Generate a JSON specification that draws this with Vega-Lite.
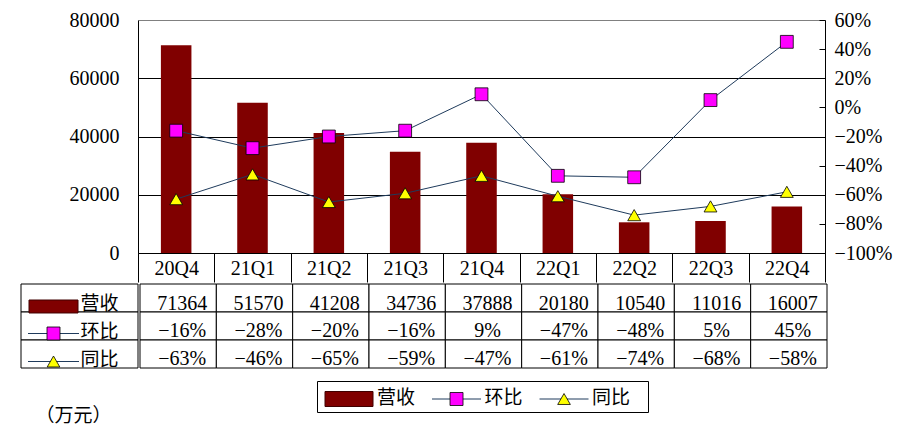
{
  "$schema": "https://vega.github.io/schema/vega-lite/v6.json",
  "background": "white",
  "padding": {"left": 20, "top": 10, "right": 5, "bottom": 2},
  "config": {
    "view": {"stroke": null},
    "axis": {"labelFont": "'Liberation Serif', 'Noto Sans CJK SC'", "labelFontSize": 20, "labelColor": "black", "domainColor": "black", "tickColor": "black", "title": null},
    "text": {"font": "'Liberation Serif', 'Noto Sans CJK SC'", "fontSize": 20, "color": "black"}
  },
  "datasets": {
    "q": [
      {"quarter": "20Q4", "营收": 71364, "环比": -0.16, "同比": -0.63},
      {"quarter": "21Q1", "营收": 51570, "环比": -0.28, "同比": -0.46},
      {"quarter": "21Q2", "营收": 41208, "环比": -0.20, "同比": -0.65},
      {"quarter": "21Q3", "营收": 34736, "环比": -0.16, "同比": -0.59},
      {"quarter": "21Q4", "营收": 37888, "环比": 0.09, "同比": -0.47},
      {"quarter": "22Q1", "营收": 20180, "环比": -0.47, "同比": -0.61},
      {"quarter": "22Q2", "营收": 10540, "环比": -0.48, "同比": -0.74},
      {"quarter": "22Q3", "营收": 11016, "环比": 0.05, "同比": -0.68},
      {"quarter": "22Q4", "营收": 16007, "环比": 0.45, "同比": -0.58}
    ]
  },
  "title": {"text": "（万元）", "orient": "bottom", "anchor": "start", "font": "Noto Sans CJK SC", "fontSize": 19, "fontWeight": "normal", "color": "black", "offset": -6, "dx": 15},
  "spacing": 10,
  "vconcat": [
    {
      "spacing": 0,
      "vconcat": [
        {
          "bounds": "flush",
          "spacing": 0,
          "hconcat": [
            {"width": 117, "height": 233, "data": {"values": []}, "mark": "point"},
            {
              "width": 687,
              "height": 233,
              "data": {"name": "q"},
              "encoding": {
                "x": {"field": "quarter", "type": "nominal", "sort": ["20Q4","21Q1","21Q2","21Q3","21Q4","22Q1","22Q2","22Q3","22Q4"], "scale": {"paddingInner": 0, "paddingOuter": 0},
                  "axis": {"orient": "bottom", "labelAngle": 0, "tickBand": "extent", "tickSize": 29, "tickWidth": 1, "labelPadding": -24, "labelOverlap": false, "labelFlush": false, "domain": true, "grid": false}}
              },
              "layer": [
                {
                  "mark": {"type": "bar", "color": "#800000", "width": {"band": 0.4}},
                  "encoding": {
                    "y": {"field": "营收", "type": "quantitative", "scale": {"domain": [0, 80000]},
                      "axis": {"orient": "left", "values": [0, 20000, 40000, 60000, 80000], "format": "d", "grid": true,
                        "gridColor": {"condition": {"test": "datum.value === 80000", "value": "#808080"}, "value": "black"},
                        "gridOpacity": 1, "gridWidth": 1, "ticks": false, "tickSize": 0, "labelPadding": 19, "domain": true}}
                  }
                },
                {
                  "transform": [{"fold": ["环比", "同比"], "as": ["series", "pct"]}],
                  "encoding": {
                    "y": {"field": "pct", "type": "quantitative", "scale": {"domain": [-1, 0.6]},
                      "axis": {"orient": "right", "values": [-1, -0.8, -0.6, -0.4, -0.2, 0, 0.2, 0.4, 0.6], "format": ".0%", "grid": false, "tickSize": -6, "labelPadding": 15}}
                  },
                  "layer": [
                    {"mark": {"type": "line", "color": "#1f3b5c", "strokeWidth": 1}, "encoding": {"detail": {"field": "series", "type": "nominal"}}},
                    {"mark": {"type": "point", "filled": true, "size": 165, "opacity": 1, "stroke": "black", "strokeWidth": 0.8},
                      "encoding": {
                        "shape": {"field": "series", "type": "nominal", "scale": {"domain": ["环比", "同比"], "range": ["square", "triangle-up"]}, "legend": null},
                        "fill": {"field": "series", "type": "nominal", "scale": {"domain": ["环比", "同比"], "range": ["#ff00ff", "#ffff00"]}, "legend": null}
                      }}
                  ]
                }
              ],
              "resolve": {"scale": {"y": "independent"}}
            }
          ]
        },
        {
          "spacing": 0,
          "hconcat": [
            {
              "width": 117,
              "height": 84,
              "data": {"values": [{"row": "营收"}, {"row": "环比"}, {"row": "同比"}]},
              "encoding": {
                "y": {"field": "row", "type": "nominal", "scale": {"domain": ["营收", "环比", "同比"], "paddingInner": 0, "paddingOuter": 0}, "axis": null}
              },
              "layer": [
                {"mark": {"type": "rect", "fill": "white", "stroke": "black", "strokeWidth": 1}},
                {"transform": [{"filter": "datum.row !== '营收'"}],
                  "mark": {"type": "point", "shape": "M-1,0H1", "size": 2601, "filled": false, "stroke": "#1f3b5c", "strokeWidth": 1, "opacity": 1, "yOffset": 7.5},
                  "encoding": {"x": {"datum": "key", "type": "nominal", "scale": {"type": "point", "domain": ["key"], "padding": 0, "align": 0.2778}, "axis": null}}},
                {"transform": [{"filter": "datum.row === '营收'"}],
                  "mark": {"type": "point", "shape": "M-1,-0.265H1V0.265H-1Z", "size": 2401, "filled": true, "fill": "#800000", "stroke": "#400000", "strokeWidth": 1, "opacity": 1, "yOffset": 8.5},
                  "encoding": {"x": {"datum": "key", "type": "nominal"}}},
                {"transform": [{"filter": "datum.row === '环比'"}],
                  "mark": {"type": "point", "shape": "square", "size": 169, "filled": true, "fill": "#ff00ff", "stroke": "black", "strokeWidth": 0.8, "opacity": 1, "yOffset": 7.5},
                  "encoding": {"x": {"datum": "key", "type": "nominal"}}},
                {"transform": [{"filter": "datum.row === '同比'"}],
                  "mark": {"type": "point", "shape": "triangle-up", "size": 160, "filled": true, "fill": "#ffff00", "stroke": "black", "strokeWidth": 0.8, "opacity": 1, "yOffset": 7.5},
                  "encoding": {"x": {"datum": "key", "type": "nominal"}}},
                {"mark": {"type": "text", "align": "left", "font": "Noto Sans CJK SC", "fontSize": 19, "dx": 27, "dy": 5.5},
                  "encoding": {"x": {"datum": "key", "type": "nominal"}, "text": {"field": "row"}}}
              ]
            },
            {
              "width": 687,
              "height": 84,
              "data": {"name": "q"},
              "encoding": {
                "x": {"field": "quarter", "type": "nominal", "sort": ["20Q4","21Q1","21Q2","21Q3","21Q4","22Q1","22Q2","22Q3","22Q4"], "scale": {"paddingInner": 0, "paddingOuter": 0}, "axis": null}
              },
              "layer": [
                {"transform": [{"fold": ["营收", "环比", "同比"], "as": ["row", "v"]}],
                  "mark": {"type": "rect", "fill": "white", "stroke": "black", "strokeWidth": 1},
                  "encoding": {"y": {"field": "row", "type": "nominal", "scale": {"domain": ["营收", "环比", "同比"], "paddingInner": 0, "paddingOuter": 0}, "axis": null}}},
                {"mark": {"type": "text", "dx": 4, "dy": 5.5},
                  "encoding": {"y": {"datum": "营收", "type": "nominal"}, "text": {"field": "营收", "type": "nominal"}}},
                {"mark": {"type": "text", "dx": 4, "dy": 5},
                  "encoding": {"y": {"datum": "环比", "type": "nominal"}, "text": {"field": "环比", "type": "quantitative", "format": ".0%"}}},
                {"mark": {"type": "text", "dx": 4, "dy": 4.5},
                  "encoding": {"y": {"datum": "同比", "type": "nominal"}, "text": {"field": "同比", "type": "quantitative", "format": ".0%"}}}
              ]
            }
          ]
        }
      ]
    },
    {
      "spacing": 0,
      "hconcat": [
        {"width": 295, "height": 31, "data": {"values": []}, "mark": "point"},
        {
          "width": 331,
          "height": 31,
          "view": {"stroke": "black", "strokeWidth": 1, "fill": "white"},
          "data": {"values": [{"item": "营收"}, {"item": "环比"}, {"item": "同比"}]},
          "encoding": {
            "x": {"field": "item", "type": "nominal", "sort": ["营收", "环比", "同比"], "scale": {"type": "point", "padding": 0.5395, "align": 0.276}, "axis": null}
          },
          "layer": [
            {"transform": [{"filter": "datum.item !== '营收'"}],
              "mark": {"type": "point", "shape": "M-1,0H1", "size": 2401, "filled": false, "stroke": "#1f3b5c", "strokeWidth": 1, "opacity": 1, "yOffset": 2.5}},
            {"transform": [{"filter": "datum.item === '营收'"}],
              "mark": {"type": "point", "shape": "M-1,-0.3125H1V0.3125H-1Z", "size": 2304, "filled": true, "fill": "#800000", "stroke": "#400000", "strokeWidth": 1, "opacity": 1, "yOffset": 2.5}},
            {"transform": [{"filter": "datum.item === '环比'"}],
              "mark": {"type": "point", "shape": "square", "size": 169, "filled": true, "fill": "#ff00ff", "stroke": "black", "strokeWidth": 0.8, "opacity": 1, "yOffset": 2.5}},
            {"transform": [{"filter": "datum.item === '同比'"}],
              "mark": {"type": "point", "shape": "triangle-up", "size": 160, "filled": true, "fill": "#ffff00", "stroke": "black", "strokeWidth": 0.8, "opacity": 1, "yOffset": 2.5}},
            {"mark": {"type": "text", "align": "left", "dx": 28, "dy": 1.5, "font": "Noto Sans CJK SC", "fontSize": 19},
              "encoding": {"text": {"field": "item"}}}
          ]
        }
      ]
    }
  ]
}
